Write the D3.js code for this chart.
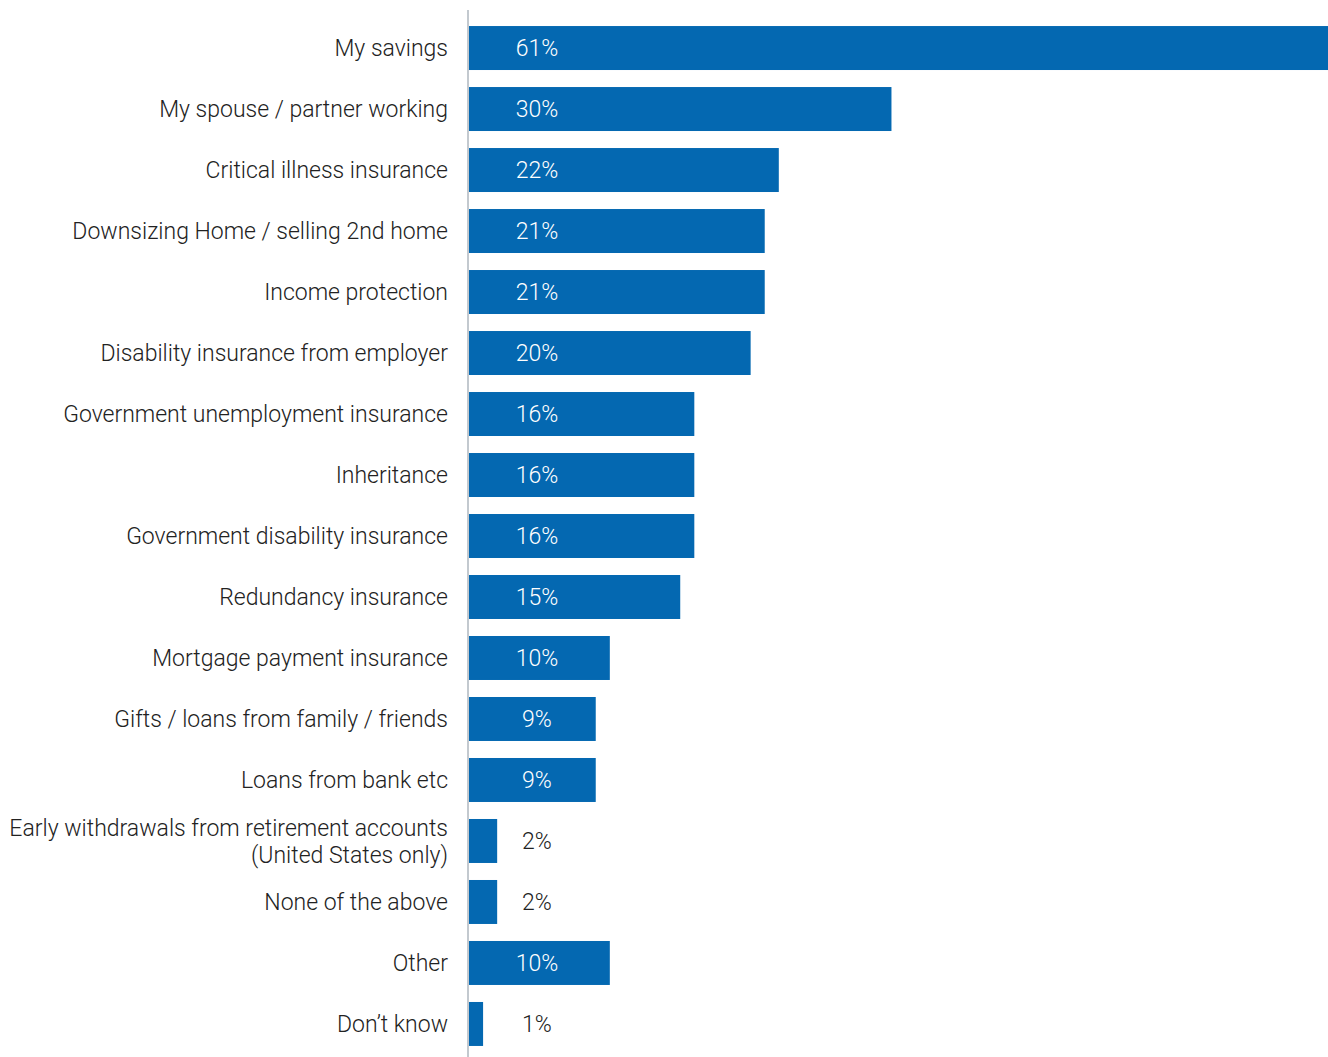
<!DOCTYPE html>
<html><head><meta charset="utf-8">
<script src="https://cdn.jsdelivr.net/npm/d3@7"></script>
<style>body{margin:0;background:#fff;} text{font-family:Roboto,"Noto Sans",sans-serif;font-weight:300;}</style>
</head><body><svg id="c" width="1328" height="1057"></svg>
<script>
const categories = [
  "My savings","My spouse / partner working","Critical illness insurance",
  "Downsizing Home / selling 2nd home","Income protection","Disability insurance from employer",
  "Government unemployment insurance","Inheritance","Government disability insurance",
  "Redundancy insurance","Mortgage payment insurance","Gifts / loans from family / friends",
  "Loans from bank etc","Early withdrawals from retirement accounts\n(United States only)",
  "None of the above","Other","Don\u2019t know"
];
const values = [61,30,22,21,21,20,16,16,16,15,10,9,9,2,2,10,1];

const svg = d3.select("#c");
const x0 = 469;
const x = d3.scaleLinear().domain([0,61]).range([x0,1328]);
const y = d3.scaleBand().domain(categories).range([17.5,1054.5]).paddingInner(0.279).paddingOuter(0.14);

svg.append("line").attr("x1",468).attr("x2",468).attr("y1",10).attr("y2",1057)
  .attr("stroke","#c3c9cf").attr("stroke-width",2);

svg.selectAll("rect.bar").data(values).join("rect").attr("class","bar")
  .attr("x",x0).attr("y",(d,i)=>y(categories[i]))
  .attr("width",d=>x(d)-x0).attr("height",y.bandwidth()).attr("fill","#0468b1");

svg.selectAll("text.val").data(values).join("text").attr("class","val")
  .attr("x",537).attr("y",(d,i)=>y(categories[i])+y.bandwidth()/2)
  .attr("dy","0.35em").attr("text-anchor","middle").attr("font-size",23)
  .attr("fill",d=>x(d)-x0>90?"#ffffff":"#222222").text(d=>d+"%");

const lab = svg.selectAll("text.lab").data(categories).join("text").attr("class","lab")
  .attr("x",448).attr("text-anchor","end").attr("font-size",23).attr("fill","#222");
lab.each(function(c){
  const lines = c.split("\n");
  const cy = y(c)+y.bandwidth()/2;
  const t = d3.select(this);
  lines.forEach((l,j)=>{
    t.append("tspan").attr("x",448).attr("y",cy+(j-(lines.length-1)/2)*27).attr("dy","0.35em").text(l);
  });
});
</script></body></html>
